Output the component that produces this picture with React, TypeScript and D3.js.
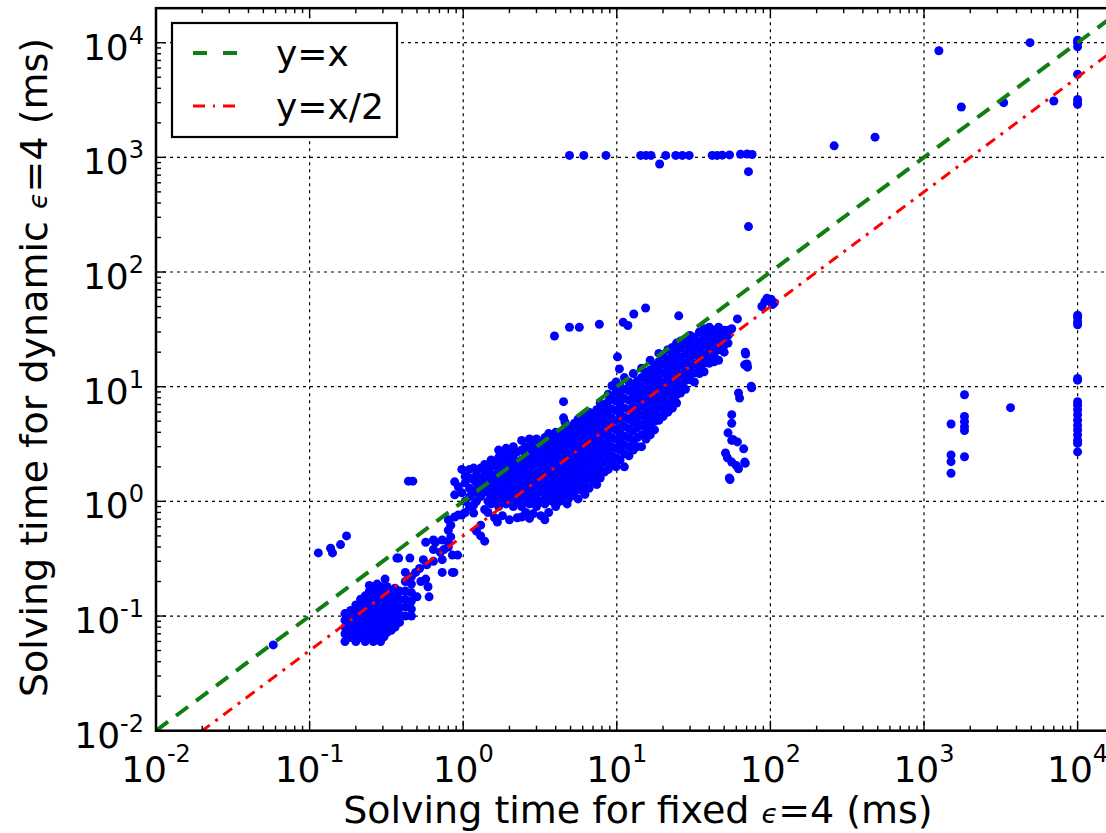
import React from "react";
import * as d3 from "d3";

const W = 1106;
const H = 833;
const X_DOMAIN: [number, number] = [0.01, 20000];
const Y_DOMAIN: [number, number] = [0.01, 20000];
const decadeExponents = [-2, -1, 0, 1, 2, 3, 4];

const legendLabels = ["y=x", "y=x/2"];
const xLabelParts = ["Solving time for fixed ", "ϵ", "=4 (ms)"];
const yLabelParts = ["Solving time for dynamic ", "ϵ", "=4 (ms)"];

// dense low blob, columns: [x, y values]
const lowBlobColumns: [number, number[]][] = [
  [0.17, [0.06, 0.07, 0.08, 0.092, 0.105]],
  [0.185, [0.065, 0.075, 0.087, 0.1, 0.112]],
  [0.2, [0.06, 0.07, 0.082, 0.095, 0.11, 0.125]],
  [0.215, [0.065, 0.076, 0.09, 0.104, 0.12, 0.14]],
  [0.23, [0.06, 0.07, 0.083, 0.097, 0.112, 0.13, 0.15]],
  [0.245, [0.065, 0.076, 0.09, 0.105, 0.122, 0.142, 0.165, 0.185]],
  [0.26, [0.06, 0.07, 0.082, 0.096, 0.112, 0.13, 0.152, 0.178]],
  [0.275, [0.066, 0.077, 0.09, 0.105, 0.122, 0.142, 0.165, 0.19]],
  [0.29, [0.06, 0.071, 0.083, 0.097, 0.113, 0.132, 0.155, 0.18]],
  [0.305, [0.066, 0.078, 0.091, 0.106, 0.124, 0.145, 0.17]],
  [0.32, [0.072, 0.085, 0.1, 0.116, 0.135, 0.158, 0.18]],
  [0.34, [0.075, 0.09, 0.105, 0.122, 0.142, 0.165]],
  [0.36, [0.08, 0.095, 0.112, 0.13, 0.15, 0.175]],
  [0.385, [0.088, 0.103, 0.12, 0.14, 0.165]],
  [0.42, [0.1, 0.12, 0.14, 0.165, 0.2, 0.24]],
  [0.46, [0.1, 0.115, 0.135, 0.16, 0.19, 0.22]],
];

const lowScatter: [number, number][] = [
  [0.058, 0.056], [0.114, 0.355], [0.137, 0.39], [0.141, 0.355], [0.159, 0.42], [0.174, 0.5],
  [0.31, 0.21], [0.37, 0.32], [0.38, 0.32], [0.45, 0.32], [0.49, 0.24], [0.53, 0.2],
  [0.57, 0.21], [0.5, 0.147], [0.6, 0.147], [0.59, 0.18], [0.52, 0.26], [0.58, 0.28],
  [0.55, 0.31], [0.64, 0.3], [0.57, 0.44], [0.66, 0.44], [0.64, 0.46], [0.64, 0.38],
  [0.73, 0.46], [0.73, 0.31], [0.73, 0.24], [0.71, 0.36], [0.75, 0.38], [0.8, 0.4],
  [0.8, 0.44], [0.83, 0.49], [0.83, 0.62], [0.8, 0.69], [0.8, 0.56], [0.85, 0.34],
  [0.92, 0.34], [0.87, 0.24], [0.85, 0.24], [0.44, 1.5], [0.47, 1.5],
];

// main diagonal band, columns: [x, y values]
const mainBandColumns: [number, number[]][] = [
  [0.88, [0.73, 1.14, 1.48]],
  [0.93, [0.76, 1.34]],
  [0.98, [0.76, 1.19, 1.9]],
  [1.03, [0.8, 1.0, 1.45, 1.65]],
  [1.1, [0.9, 1.1, 1.3, 1.6, 1.9]],
  [1.17, [0.79, 0.93, 1.19, 1.54, 1.95]],
  [1.22, [0.55, 1.0, 1.25, 1.45, 1.7]],
  [1.3, [0.5, 0.62, 1.1, 1.3, 1.55, 1.95]],
  [1.38, [0.45, 0.85, 1.2, 1.4, 1.75, 2.1]],
  [1.45, [0.8, 1.0, 1.25, 1.5, 1.8]],
  [1.52, [0.95, 1.1, 1.35, 1.65, 2.0, 2.3]],
  [1.6, [0.72, 1.0, 1.2, 1.45, 1.7, 2.1]],
  [1.67, [0.66]],
  [1.7, [0.9, 1.1, 1.3, 1.55, 1.9, 2.4, 2.8]],
  [1.8, [0.75, 1.05, 1.25, 1.5, 1.75, 2.1, 2.5]],
  [1.9, [0.95, 1.15, 1.4, 1.65, 2.0, 2.3, 2.9]],
  [2.0, [0.69, 1.05, 1.3, 1.55, 1.85, 2.2, 2.6]],
  [2.12, [0.9, 1.15, 1.4, 1.7, 2.0, 2.4, 3.0]],
  [2.25, [0.72, 1.0, 1.25, 1.5, 1.8, 2.15, 2.7]],
  [2.4, [0.73, 0.9, 1.1, 1.35, 1.6, 1.95, 2.3, 2.8, 3.4]],
  [2.55, [0.8, 1.0, 1.2, 1.45, 1.75, 2.1, 2.5, 3.0]],
  [2.7, [0.71, 0.95, 1.15, 1.35, 1.6, 1.9, 2.25, 2.7, 3.5]],
  [2.85, [0.78, 1.05, 1.25, 1.5, 1.8, 2.1, 2.5, 3.1]],
  [3.0, [0.9, 1.15, 1.4, 1.65, 2.0, 2.35, 2.8, 3.5]],
  [3.2, [0.75, 1.0, 1.25, 1.5, 1.8, 2.15, 2.6, 3.2]],
  [3.4, [0.69, 0.95, 1.15, 1.35, 1.65, 1.95, 2.35, 2.9, 3.6]],
  [3.6, [0.8, 1.05, 1.25, 1.5, 1.8, 2.15, 2.6, 3.2, 3.9]],
  [3.8, [1.0, 1.2, 1.4, 1.7, 2.0, 2.4, 2.9, 3.5]],
  [4.0, [0.9, 1.1, 1.3, 1.55, 1.85, 2.2, 2.7, 3.3, 4.0]],
  [4.25, [1.0, 1.2, 1.45, 1.7, 2.05, 2.5, 3.0, 3.7]],
  [4.5, [1.1, 1.3, 1.55, 1.9, 2.3, 2.8, 3.4, 4.2, 5.35, 7.4]],
  [4.75, [0.95, 1.2, 1.45, 1.75, 2.1, 2.55, 3.1, 3.8, 4.5]],
  [5.0, [1.1, 1.35, 1.6, 1.95, 2.35, 2.85, 3.5, 4.3]],
  [5.3, [1.2, 1.45, 1.75, 2.1, 2.55, 3.1, 3.8, 4.8]],
  [5.6, [1.05, 1.3, 1.6, 1.95, 2.35, 2.9, 3.5, 4.3, 5.2]],
  [5.9, [1.25, 1.5, 1.8, 2.2, 2.65, 3.2, 3.9, 4.8]],
  [6.2, [1.15, 1.4, 1.7, 2.05, 2.5, 3.0, 3.6, 4.4, 5.4]],
  [6.6, [1.3, 1.6, 1.9, 2.3, 2.8, 3.4, 4.1, 5.0, 6.0]],
  [7.0, [1.5, 1.8, 2.15, 2.6, 3.15, 3.8, 4.6, 5.6]],
  [7.4, [1.4, 1.7, 2.05, 2.5, 3.0, 3.6, 4.3, 5.2, 6.3]],
  [7.8, [1.6, 1.95, 2.35, 2.85, 3.4, 4.1, 5.0, 6.0, 7.2]],
  [8.3, [1.8, 2.2, 2.65, 3.2, 3.9, 4.7, 5.6, 6.7]],
  [8.8, [1.9, 2.3, 2.8, 3.4, 4.1, 5.0, 6.0, 7.4, 8.6]],
  [9.3, [2.1, 2.5, 3.0, 3.6, 4.4, 5.3, 6.4, 7.8, 10.2]],
  [9.9, [2.0, 2.4, 2.9, 3.5, 4.2, 5.1, 6.2, 7.5, 9.0, 11]],
  [10.5, [2.3, 2.8, 3.3, 4.0, 4.8, 5.8, 7.0, 8.4, 10]],
  [11.2, [2.0, 2.6, 3.1, 3.7, 4.5, 5.4, 6.5, 7.9, 9.5, 12]],
  [12, [2.5, 3.0, 3.6, 4.3, 5.2, 6.3, 7.6, 9.2, 11]],
  [12.8, [2.8, 3.4, 4.1, 4.9, 5.9, 7.1, 8.6, 10.3, 13]],
  [13.6, [3.0, 3.6, 4.4, 5.3, 6.4, 7.7, 9.3, 11.2]],
  [14.5, [3.0, 3.8, 4.6, 5.6, 6.8, 8.2, 9.9, 12, 14.5]],
  [15.5, [3.5, 4.2, 5.1, 6.1, 7.4, 8.9, 10.7, 13]],
  [16.5, [3.8, 4.6, 5.5, 6.6, 8.0, 9.6, 11.6, 14, 17]],
  [17.6, [4.2, 5.0, 6.0, 7.2, 8.7, 10.5, 12.6, 15.2]],
  [18.8, [5.1, 5.5, 6.6, 7.9, 9.5, 11.4, 13.7, 16.5, 19.5]],
  [20, [5.5, 6.4, 7.6, 9.1, 10.9, 13.1, 15.7, 18.8]],
  [21.5, [6.0, 7.0, 8.4, 10, 12, 14.4, 17.3, 21]],
  [23, [6.5, 7.7, 9.2, 11, 13.2, 15.8, 19, 22]],
  [24.5, [7.2, 8.5, 10.1, 12.1, 14.5, 17.4, 20.8, 24]],
  [26, [8.8, 10.5, 12.6, 15.1, 18, 21.6, 25]],
  [28, [9.5, 11.3, 13.5, 16.2, 19.4, 23.2, 26]],
  [30, [11.5, 12.6, 15, 18, 21.5, 25.5, 28]],
  [32, [11, 13.2, 15.8, 19, 22.5, 27]],
  [34.5, [13, 14.8, 17.6, 21, 25, 30]],
  [37, [13.5, 16, 19, 22.7, 27, 32]],
  [40, [16, 17.5, 20.8, 24.7, 29, 33]],
  [43, [16.5, 19, 22.5, 26.5, 31]],
  [46, [17, 21, 24.5, 28.5, 33]],
  [50, [20, 23, 27, 31]],
  [53, [24, 28, 31]],
  [56, [32]],
  [61, [39]],
];

const midOutliers: [number, number][] = [
  [3.93, 27.7], [4.92, 33], [5.7, 33], [7.7, 35], [11, 36.5], [11.8, 34.2],
  [12.9, 43], [15.4, 48.6], [25.3, 41.5], [10.1, 18.2], [10.4, 14.3], [4.6, 4.9],
  [88, 50], [92, 55], [95, 59], [101, 58], [103, 52], [106, 54],
];

const verticalGroup70: [number, number][] = [
  [69, 19.3], [68.6, 20], [70.5, 15.8], [68, 15.5], [71, 14.8], [75.5, 9.8], [75, 10.1],
  [62, 8.8], [63, 7.95], [56, 5.7], [56, 4.8], [53, 3.96], [57, 3.46], [56, 3.4],
  [61, 3.3], [51, 2.64], [52.5, 2.4], [56, 2.2], [67, 2.87], [68, 2.2], [68.6, 2.15],
  [60, 2.05], [62, 1.92], [54, 1.6], [54.6, 1.55],
];

const band1000: [number, number][] = [
  [4.92, 1040], [6.1, 1040], [8.5, 1040], [14.3, 1040], [15.5, 1040], [16.7, 1040],
  [19, 875], [20.8, 1040], [24.2, 1040], [26.7, 1040], [29.6, 1040], [41.8, 1040],
  [45, 1040], [48.6, 1045], [54.2, 1050], [63.9, 1065], [70.5, 1070], [76, 1060],
  [72, 750], [72, 249],
];

const farRight: [number, number][] = [
  [260, 1260], [480, 1500], [1250, 8500], [1750, 2750], [3300, 3000], [4900, 10000],
  [7000, 3100], [3660, 6.56],
  [1835, 8.5], [1835, 5.5], [1835, 4.96], [1835, 4.48], [1835, 4.14], [1835, 2.45],
  [1500, 4.73], [1500, 2.54], [1500, 2.22], [1500, 1.76],
];

const timeoutX = 10000;
const timeoutYs = [
  10500, 10000, 9200, 5300, 3200, 3000, 2900, 42, 40, 36.7, 34.7, 11.8, 11.4,
  7.4, 6.9, 6.3, 5.7, 5.1, 4.6, 4.2, 3.8, 3.4, 3.2, 2.7,
];

const FONT = "DejaVu Sans, Verdana, sans-serif";

export default function App() {
  const left = 156;
  const bottom = 730.7;
  const decadeX = 153.6;
  const decadeY = 114.67;
  const right = left + Math.log10(X_DOMAIN[1] / X_DOMAIN[0]) * decadeX;
  const top = bottom - Math.log10(Y_DOMAIN[1] / Y_DOMAIN[0]) * decadeY;

  const x = d3.scaleLog().domain(X_DOMAIN).range([left, right]);
  const y = d3.scaleLog().domain(Y_DOMAIN).range([bottom, top]);

  const points: [number, number][] = [];
  lowBlobColumns.forEach(([xv, ys]) => ys.forEach((yv) => points.push([xv, yv])));
  lowScatter.forEach((p) => points.push(p));
  mainBandColumns.forEach(([xv, ys]) => ys.forEach((yv) => points.push([xv, yv])));
  midOutliers.forEach((p) => points.push(p));
  verticalGroup70.forEach((p) => points.push(p));
  band1000.forEach((p) => points.push(p));
  farRight.forEach((p) => points.push(p));
  timeoutYs.forEach((yv) => points.push([timeoutX, yv]));

  const isMajor = (v: number) => Math.abs(Math.log10(v) - Math.round(Math.log10(v))) < 1e-9;
  const xTicks = x.ticks();
  const yTicks = y.ticks();

  const line = d3
    .line<[number, number]>()
    .x((d) => x(d[0]))
    .y((d) => y(d[1]));
  const identity: [number, number][] = [
    [X_DOMAIN[0], X_DOMAIN[0]],
    [X_DOMAIN[1], X_DOMAIN[1]],
  ];
  const half: [number, number][] = [
    [X_DOMAIN[0], X_DOMAIN[0] / 2],
    [X_DOMAIN[1], X_DOMAIN[1] / 2],
  ];

  const green = "#0f7f12";
  const red = "#ff0000";
  const greenDash = "15 10";
  const redDash = "11 7 3 7";

  const gridStyle = { stroke: "#000", strokeWidth: 1.2, strokeDasharray: "3 4" };

  return (
    <div style={{ position: "absolute", left: 0, top: 0, background: "#fff" }}>
      <svg width={W} height={H} viewBox={`0 0 ${W} ${H}`} style={{ display: "block", fontFamily: FONT }}>
        <rect x={0} y={0} width={W} height={H} fill="#fff" />
        <defs>
          <clipPath id="plot-clip">
            <rect x={left} y={top} width={right - left} height={bottom - top} />
          </clipPath>
        </defs>

        {/* grid */}
        <g>
          {decadeExponents.map((e) => (
            <line key={"gx" + e} x1={x(10 ** e)} x2={x(10 ** e)} y1={top} y2={bottom} {...gridStyle} />
          ))}
          {decadeExponents.map((e) => (
            <line key={"gy" + e} x1={left} x2={right} y1={y(10 ** e)} y2={y(10 ** e)} {...gridStyle} />
          ))}
        </g>

        {/* scatter */}
        <g clipPath="url(#plot-clip)">
          {points.map((p, i) => (
            <circle key={i} cx={x(p[0])} cy={y(p[1])} r={4.5} fill="#0000ff" />
          ))}
        </g>

        {/* reference lines */}
        <g clipPath="url(#plot-clip)">
          <path d={line(identity) || ""} fill="none" stroke={green} strokeWidth={4} strokeDasharray={greenDash} />
          <path d={line(half) || ""} fill="none" stroke={red} strokeWidth={3} strokeDasharray={redDash} />
        </g>

        {/* ticks */}
        <g stroke="#000" strokeWidth={1.4}>
          {xTicks.map((t, i) => {
            const len = isMajor(t) ? 10 : 5;
            const px = x(t);
            return (
              <g key={"xt" + i}>
                <line x1={px} x2={px} y1={bottom} y2={bottom - len} />
                <line x1={px} x2={px} y1={top} y2={top + len} />
              </g>
            );
          })}
          {yTicks.map((t, i) => {
            const len = isMajor(t) ? 10 : 5;
            const py = y(t);
            return (
              <g key={"yt" + i}>
                <line x1={left} x2={left + len} y1={py} y2={py} />
                <line x1={right} x2={right - len} y1={py} y2={py} />
              </g>
            );
          })}
        </g>

        {/* frame */}
        <rect x={left} y={top} width={right - left} height={bottom - top} fill="none" stroke="#000" strokeWidth={2.5} />

        {/* tick labels */}
        <g fill="#000">
          {decadeExponents.map((e) => (
            <text key={"xl" + e} x={x(10 ** e)} y={782} textAnchor="middle" fontSize={36}>
              10
              <tspan dy={-20} fontSize={24}>
                {e}
              </tspan>
            </text>
          ))}
          {decadeExponents.map((e) => (
            <text key={"yl" + e} x={144} y={y(10 ** e) + 17} textAnchor="end" fontSize={36}>
              10
              <tspan dy={-16} fontSize={24}>
                {e}
              </tspan>
            </text>
          ))}
        </g>

        {/* axis labels */}
        <text x={(left + right) / 2 - 2} y={823} textAnchor="middle" fontSize={38} fill="#000">
          {xLabelParts[0]}
          <tspan fontSize={27} fontStyle="italic">
            {xLabelParts[1]}
          </tspan>
          {xLabelParts[2]}
        </text>
        <text
          transform={`translate(47, ${(top + bottom) / 2 - 2}) rotate(-90)`}
          textAnchor="middle"
          fontSize={38}
          fill="#000"
        >
          {yLabelParts[0]}
          <tspan fontSize={27} fontStyle="italic">
            {yLabelParts[1]}
          </tspan>
          {yLabelParts[2]}
        </text>

        {/* legend */}
        <g>
          <rect x={172} y={23} width={225} height={114} fill="#fff" stroke="#000" strokeWidth={2.2} />
          <line x1={193} x2={237} y1={53} y2={53} stroke={green} strokeWidth={4} strokeDasharray="14 16" />
          <text x={276} y={66} fontSize={36} fill="#000">
            {legendLabels[0]}
          </text>
          <line x1={193} x2={235} y1={106} y2={106} stroke={red} strokeWidth={3} strokeDasharray="12 8 2 8" />
          <text x={276} y={119} fontSize={36} fill="#000">
            {legendLabels[1]}
          </text>
        </g>
      </svg>
    </div>
  );
}
